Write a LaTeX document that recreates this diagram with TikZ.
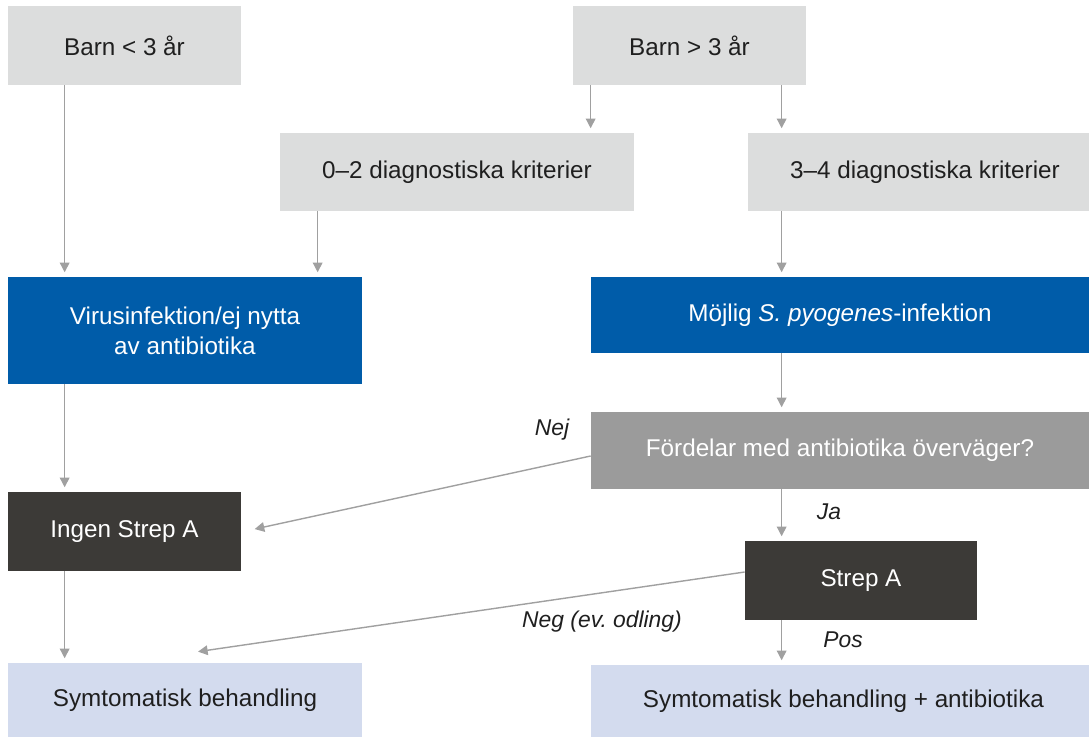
\documentclass[tikz,border=0pt]{standalone}
\usepackage{fontspec}
\setmainfont{Liberation Sans}
\definecolor{flgray}{RGB}{220,221,221}
\definecolor{flblue}{RGB}{0,92,169}
\definecolor{flmid}{RGB}{155,155,155}
\definecolor{fldark}{RGB}{60,58,55}
\definecolor{fllight}{RGB}{211,219,238}
\definecolor{flline}{RGB}{160,160,160}
\usetikzlibrary{arrows.meta,calc}

\begin{document}
\begin{tikzpicture}[
  base/.style={rectangle, inner sep=0pt, align=center,
               font=\fontsize{13.8}{17}\selectfont},
  lbox/.style={base, fill=flgray, text=black!88},
  bbox/.style={base, fill=flblue, text=white},
  gbox/.style={base, fill=flmid, text=white},
  dbox/.style={base, fill=fldark, text=white},
  sbox/.style={base, fill=fllight, text=black!88},
  arr/.style={-{Triangle[length=5.5pt, width=5.5pt]}, draw=flline, line width=0.8pt,
              shorten >=2.5pt},
  lbl/.style={font=\fontsize{13}{15}\selectfont\itshape, text=black!88}
]
\useasboundingbox (0,0) rectangle (21.78,-14.74);

% Start nodes
\node[lbox, minimum width=4.66cm, minimum height=1.58cm] (lt3) at (2.49,-0.91) {Barn < 3 år};
\node[lbox, minimum width=4.66cm, minimum height=1.58cm] (gt3) at (13.79,-0.91) {Barn > 3 år};

% Criteria
\node[lbox, minimum width=7.08cm, minimum height=1.56cm] (k02) at (9.14,-3.44) {0--2 diagnostiska kriterier};
\node[lbox, minimum width=6.82cm, minimum height=1.56cm] (k34) at (18.37,-3.44) {\hspace{0.26cm}3--4 diagnostiska kriterier};

% Assessment
\node[bbox, minimum width=7.08cm, minimum height=2.14cm] (virus) at (3.70,-6.61) {Virusinfektion/ej nytta\\av antibiotika};
\node[bbox, minimum width=9.96cm, minimum height=1.52cm] (pyo) at (16.80,-6.30) {Möjlig \textit{S. pyogenes}-infektion};
\node[gbox, minimum width=9.96cm, minimum height=1.54cm] (ford) at (16.80,-9.01) {Fördelar med antibiotika överväger?};

% Tests
\node[dbox, minimum width=4.66cm, minimum height=1.58cm] (ingen) at (2.49,-10.63) {Ingen Strep A};
\node[dbox, minimum width=4.64cm, minimum height=1.58cm] (strep) at (17.22,-11.61) {Strep A};

% Treatment
\node[sbox, minimum width=7.08cm, minimum height=1.48cm] (sym) at (3.70,-14.00) {Symtomatisk behandling};
\node[sbox, minimum width=9.96cm, minimum height=1.44cm] (symab) at (16.80,-14.02) {\hspace{0.14cm}Symtomatisk behandling + antibiotika};

% Arrows
\draw[arr] ([xshift=1.14cm]lt3.south west) -- ([xshift=1.14cm]lt3.south west |- virus.north);
\draw[arr] ([xshift=0.76cm]k02.south west) -- ([xshift=0.76cm]k02.south west |- virus.north);
\draw[arr] ([xshift=0.36cm]gt3.south west) -- ([xshift=0.36cm]gt3.south west |- k02.north);
\draw[arr] ([xshift=4.18cm]gt3.south west) -- ([xshift=4.18cm]gt3.south west |- k34.north);
\draw[arr] ([xshift=0.68cm]k34.south west) -- ([xshift=0.68cm]k34.south west |- pyo.north);
\draw[arr] ([xshift=3.82cm]pyo.south west) -- ([xshift=3.82cm]pyo.south west |- ford.north);
\draw[arr] ([xshift=1.14cm]virus.south west) -- ([xshift=1.14cm]virus.south west |- ingen.north);
\draw[arr] ([xshift=1.14cm]ingen.south west) -- ([xshift=1.14cm]ingen.south west |- sym.north);
\draw[arr] ([xshift=3.82cm]ford.south west) -- ([xshift=3.82cm]ford.south west |- strep.north);
\draw[arr] ([xshift=0.74cm]strep.south west) -- ([xshift=0.74cm]strep.south west |- symab.north);
\draw[arr] ([yshift=-0.11cm]ford.west) -- ([xshift=0.18cm,yshift=0.03cm]ingen.east);
\draw[arr, shorten >=0pt] ([yshift=0.17cm]strep.west) -- ([xshift=0.26cm,yshift=0.22cm]sym.north);

% Labels
\node[lbl] (nej) at (11.04,-8.60) {Nej};
\node[lbl] (ja)  at (16.58,-10.24) {Ja};
\node[lbl] (neg) at (12.04,-12.44) {Neg (ev.\ odling)};
\node[lbl] (pos) at (16.86,-12.80) {Pos};
\end{tikzpicture}
\end{document}
